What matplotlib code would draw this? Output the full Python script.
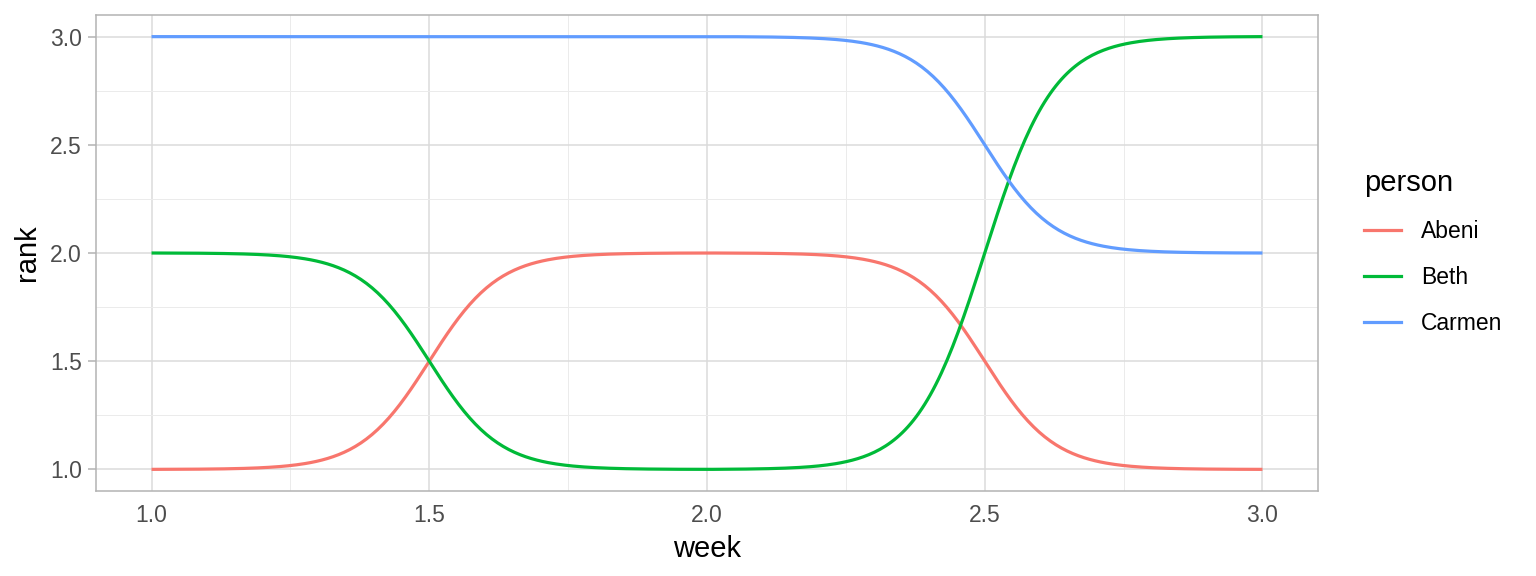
import numpy as np
import matplotlib
matplotlib.use("Agg")
import matplotlib.pyplot as plt
from matplotlib.lines import Line2D

plt.rcParams['font.family'] = ['Liberation Sans', 'DejaVu Sans']

weeks = [1, 2, 3]
persons = ["Abeni", "Beth", "Carmen"]
ranks = {
    "Abeni": [1, 2, 1],
    "Beth": [2, 1, 3],
    "Carmen": [3, 3, 2],
}
colors = {"Abeni": "#F8766D", "Beth": "#00BA38", "Carmen": "#619CFF"}


def bump(xs, ys, smooth=8, n=200):
    ox, oy = [], []
    for i in range(len(xs) - 1):
        t = np.linspace(-smooth, smooth, n)
        s = np.exp(t) / (np.exp(t) + 1)
        s = (s - s[0]) / (s[-1] - s[0])
        xx = xs[i] + (t + smooth) / (2 * smooth) * (xs[i + 1] - xs[i])
        yy = ys[i] + s * (ys[i + 1] - ys[i])
        ox.extend(xx)
        oy.extend(yy)
    return np.array(ox), np.array(oy)


fig = plt.figure(figsize=(15.36, 5.76), dpi=100)
ax = fig.add_axes([96 / 1536, 1 - 491 / 576, (1318 - 96) / 1536, (491 - 15) / 576])

for p in persons:
    x, y = bump(weeks, ranks[p])
    ax.plot(x, y, color=colors[p], lw=2.3, solid_capstyle='butt', zorder=3)

ax.set_xlim(0.9, 3.1)
ax.set_ylim(0.9, 3.1)
ax.set_xticks([1.0, 1.5, 2.0, 2.5, 3.0])
ax.set_xticklabels(["1.0", "1.5", "2.0", "2.5", "3.0"])
ax.set_yticks([1.0, 1.5, 2.0, 2.5, 3.0])
ax.set_yticklabels(["1.0", "1.5", "2.0", "2.5", "3.0"])
ax.set_xticks([1.25, 1.75, 2.25, 2.75], minor=True)
ax.set_yticks([1.25, 1.75, 2.25, 2.75], minor=True)

ax.grid(which='major', color='#DBDBDB', lw=1.1, zorder=0)
ax.grid(which='minor', color='#EBEBEB', lw=0.7, zorder=0)
ax.set_axisbelow(True)
for s in ax.spines.values():
    s.set_color('#B3B3B3')
    s.set_linewidth(1.1)

ax.tick_params(axis='both', which='major', labelsize=16.5, labelcolor='#4D4D4D',
               color='#B3B3B3', width=1.1)
ax.tick_params(axis='y', which='major', length=6, pad=4)
ax.tick_params(axis='x', which='major', length=0, pad=9)
ax.tick_params(which='minor', length=0)

ax.set_xlabel("week", fontsize=21, color='black', labelpad=6)
ax.set_ylabel("rank", fontsize=21, color='black', labelpad=7)

handles = [Line2D([0], [0], color=colors[p], lw=2.3) for p in persons]
leg = fig.legend(handles, persons, title="person", loc='upper left',
                 bbox_to_anchor=(1364 / 1536, 1 - 169 / 576), frameon=False,
                 fontsize=16.5, title_fontsize=21, handlelength=1.6,
                 labelspacing=1.0, handletextpad=0.9, borderpad=0,
                 borderaxespad=0)
leg._legend_box.align = "left"

fig.savefig("out.png", dpi=100)
